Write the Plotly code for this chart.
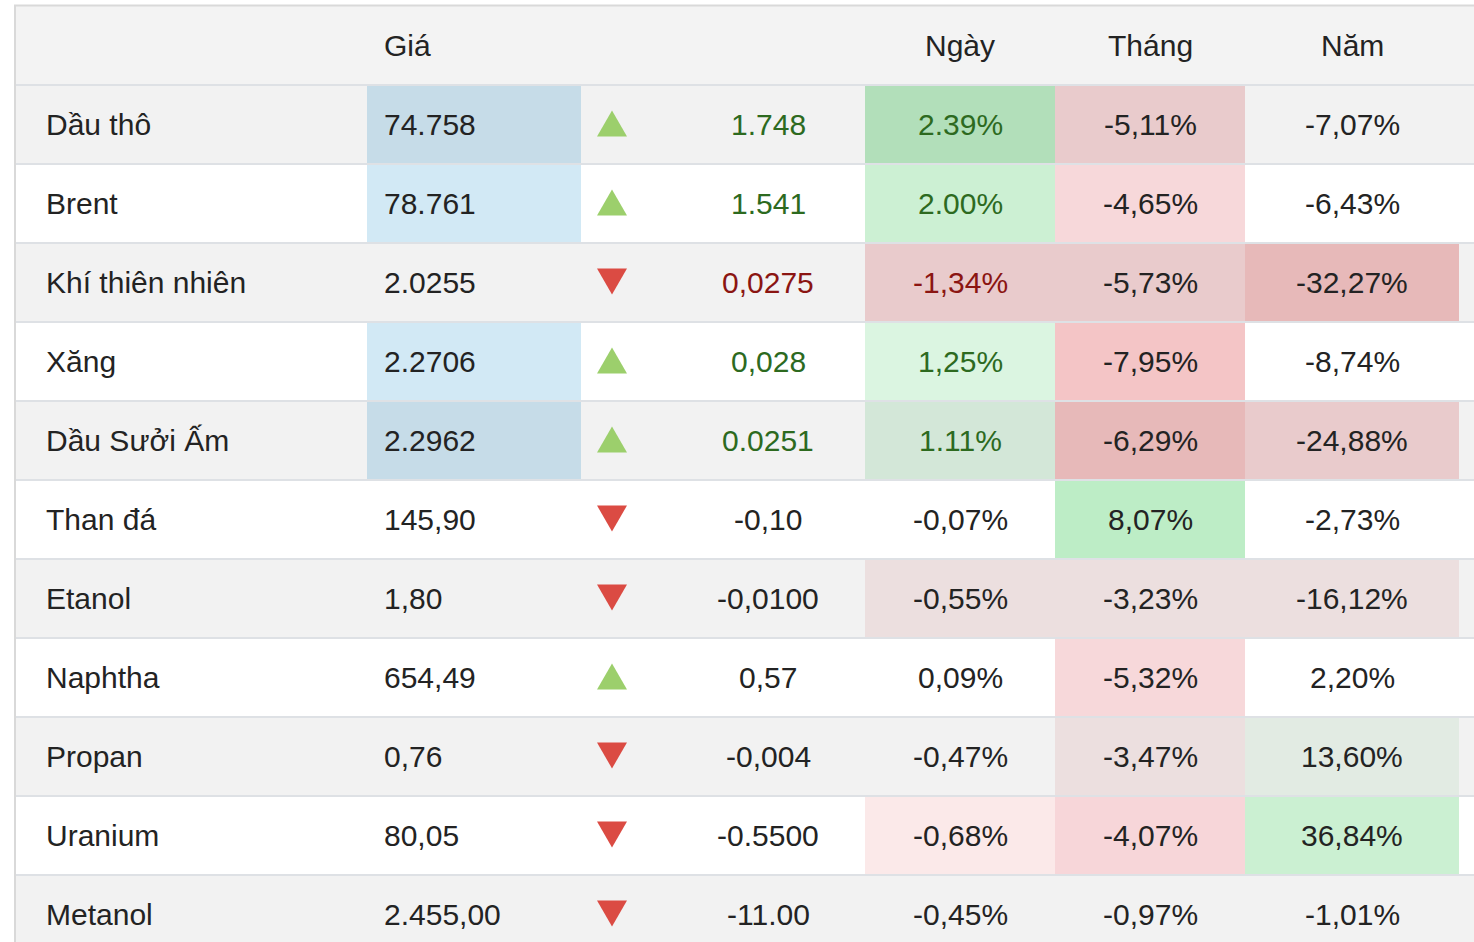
import plotly.graph_objects as go

# Bảng giá năng lượng
names = ["Dầu thô", "Brent", "Khí thiên nhiên", "Xăng", "Dầu Sưởi Ấm", "Than đá",
         "Etanol", "Naphtha", "Propan", "Uranium", "Metanol"]
prices = ["74.758", "78.761", "2.0255", "2.2706", "2.2962", "145,90",
          "1,80", "654,49", "0,76", "80,05", "2.455,00"]
direction = ["up", "up", "down", "up", "up", "down", "down", "up", "down", "down", "down"]
changes = ["1.748", "1.541", "0,0275", "0,028", "0.0251", "-0,10",
           "-0,0100", "0,57", "-0,004", "-0.5500", "-11.00"]
day_pct = ["2.39%", "2.00%", "-1,34%", "1,25%", "1.11%", "-0,07%",
           "-0,55%", "0,09%", "-0,47%", "-0,68%", "-0,45%"]
month_pct = ["-5,11%", "-4,65%", "-5,73%", "-7,95%", "-6,29%", "8,07%",
             "-3,23%", "-5,32%", "-3,47%", "-4,07%", "-0,97%"]
year_pct = ["-7,07%", "-6,43%", "-32,27%", "-8,74%", "-24,88%", "-2,73%",
            "-16,12%", "2,20%", "13,60%", "36,84%", "-1,01%"]
headers = {"price": "Giá", "day": "Ngày", "month": "Tháng", "year": "Năm"}

# màu chữ cho cột thay đổi / ngày
text_tone = ["pos", "pos", "neg", "pos", "pos", None, None, None, None, None, None]

# màu nền ô (heatmap)
price_fill = ["#c6dce8", "#d2e9f5", None, "#d2e9f5", "#c6dce8", None, None, None, None, None, None]
day_fill = ["#b2dfba", "#ccf0d3", "#e9cbcc", "#dbf5e1", "#d3e7d8", None,
            "#ecdfdf", None, None, "#fbe9e9", None]
month_fill = ["#e9cbcc", "#f7d8da", "#e9cbcc", "#f4c5c6", "#e7b9b9", "#bdedc6",
              "#ecdfdf", "#f7d8da", "#ecdfdf", "#f7d6d9", None]
year_fill = [None, None, "#e7b9b9", None, "#e9cbcc", None,
             "#ecdfdf", None, "#e2ebe3", "#cbf0d2", None]

W, H = 1474, 942
TABLE_LEFT, TABLE_TOP = 15, 6
ROW_H = 79
FONT = "Liberation Sans, Arial, sans-serif"
FONT_SIZE = 30
TEXT = "#232323"
TONES = {"pos": "#2d6a1f", "neg": "#8b1512", None: TEXT}

cols = {
    "price": (367, 581),
    "day": (865, 1055),
    "month": (1055, 1245),
    "year": (1245, 1459),
}
centers = {"change": 768, "day": 960, "month": 1150, "year": 1352}


def row_top(i):
    # i = -1 là hàng tiêu đề
    return TABLE_TOP + (i + 1) * ROW_H


def rect(x0, x1, y0, y1, color):
    return dict(type="rect", xref="x", yref="y", x0=x0, x1=x1, y0=y0, y1=y1,
                fillcolor=color, line=dict(width=0), layer="below")


def label(x, y, text, anchor, color=TEXT):
    return dict(x=x, y=y, xref="x", yref="y", text=text, showarrow=False,
                xanchor=anchor, yanchor="middle",
                font=dict(family=FONT, size=FONT_SIZE, color=color))


def triangle(cx, cy, up, color):
    hw, hh = 15, 13
    if up:
        path = f"M{cx - hw},{cy + hh} L{cx + hw},{cy + hh} L{cx},{cy - hh} Z"
    else:
        path = f"M{cx - hw},{cy - hh} L{cx + hw},{cy - hh} L{cx},{cy + hh} Z"
    return dict(type="path", xref="x", yref="y", path=path,
                fillcolor=color, line=dict(width=0))


shapes = []
annotations = []

# hàng tiêu đề
shapes.append(rect(TABLE_LEFT, W, TABLE_TOP, row_top(0), "#f3f3f3"))
hy = TABLE_TOP + ROW_H / 2
annotations.append(label(382, hy, headers["price"], "left"))
for key in ["day", "month", "year"]:
    annotations.append(label(centers[key], hy, headers[key], "center"))

fills = {"price": price_fill, "day": day_fill, "month": month_fill, "year": year_fill}

for i, name in enumerate(names):
    y0 = row_top(i)
    y1 = y0 + ROW_H
    cy = (y0 + y1) / 2
    if i % 2 == 0:
        shapes.append(rect(TABLE_LEFT, W, y0, y1, "#f2f2f2"))
    for key, fl in fills.items():
        if fl[i]:
            x0, x1 = cols[key]
            shapes.append(rect(x0, x1, y0, y1, fl[i]))

    annotations.append(label(44, cy, name, "left"))
    annotations.append(label(382, cy, prices[i], "left"))
    tone = TONES[text_tone[i]]
    annotations.append(label(centers["change"], cy, changes[i], "center", tone))
    annotations.append(label(centers["day"], cy, day_pct[i], "center", tone))
    annotations.append(label(centers["month"], cy, month_pct[i], "center"))
    annotations.append(label(centers["year"], cy, year_pct[i], "center"))

    up = direction[i] == "up"
    shapes.append(triangle(612, cy - 1, up, "#9ccf6c" if up else "#db4b43"))

# đường kẻ ngang giữa các hàng
for i in range(len(names)):
    y = row_top(i)
    shapes.append(dict(type="line", xref="x", yref="y", x0=TABLE_LEFT, x1=W, y0=y, y1=y,
                       line=dict(color="#dee1e5", width=2)))

# viền trên và trái
shapes.append(dict(type="line", xref="x", yref="y", x0=TABLE_LEFT - 1, x1=W,
                   y0=TABLE_TOP - 0.5, y1=TABLE_TOP - 0.5, line=dict(color="#d9d9d9", width=2)))
shapes.append(dict(type="line", xref="x", yref="y", x0=TABLE_LEFT, x1=TABLE_LEFT,
                   y0=TABLE_TOP - 1, y1=H, line=dict(color="#d9d9d9", width=2)))

fig = go.Figure()
fig.update_layout(
    width=W, height=H,
    margin=dict(l=0, r=0, t=0, b=0),
    paper_bgcolor="white", plot_bgcolor="white",
    xaxis=dict(range=[0, W], visible=False, fixedrange=True),
    yaxis=dict(range=[H, 0], visible=False, fixedrange=True),
    shapes=shapes,
    annotations=annotations,
    showlegend=False,
)

# bỏ lề mặc định của trang để bảng nằm sát mép cửa sổ
fig.write_html("out.html", config={"displayModeBar": False},
               post_script="document.body.style.margin='0';")
